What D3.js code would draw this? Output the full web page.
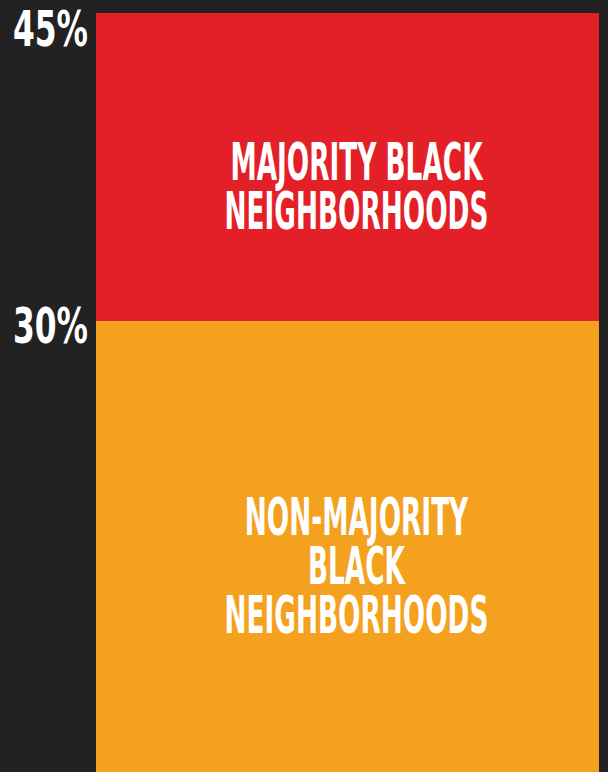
<!DOCTYPE html>
<html>
<head>
<meta charset="utf-8">
<script src="https://cdn.jsdelivr.net/npm/d3@7"></script>
<style>
  body { margin: 0; background: #222222; }
  svg { display: block; }
  text { font-family: "DejaVu Sans Condensed", "DejaVu Sans", sans-serif; font-weight: bold; font-stretch: condensed; fill: #ffffff; }
</style>
</head>
<body>
<div id="chart-area"></div>
<script>
// Data
let groups = ["Non-majority black neighborhoods", "Majority black neighborhoods"];
let shares = [30, 15];
let labelLines = [["NON-MAJORITY", "BLACK", "NEIGHBORHOODS"], ["MAJORITY BLACK", "NEIGHBORHOODS"]];
let tickValues = [30, 45];
let colors = ["#f3a11f", "#e31f27"];

let width = 608, height = 772;
let margin = {left: 96, right: 9, top: 13};

let svg = d3.select("#chart-area")
    .append("svg")
    .attr("width", width)
    .attr("height", height)
    .style("overflow", "hidden");

svg.append("rect")
    .attr("width", width)
    .attr("height", height)
    .attr("fill", "#222222");

// stack the two groups into one bar
let row = {};
groups.forEach(function (g, i) { row[g] = shares[i]; });
let series = d3.stack().keys(groups)([row]);

// Y scale: 45% at top, 30% at 321px (0% falls below the picture)
let y = d3.scaleLinear()
    .domain([30, 45])
    .range([321, margin.top]);

let x = d3.scaleBand()
    .domain(["all"])
    .range([margin.left, width - margin.right])
    .padding(0);

// Bars
svg.selectAll("rect.seg")
    .data(series)
    .enter()
    .append("rect")
    .attr("class", "seg")
    .attr("x", x("all"))
    .attr("width", x.bandwidth())
    .attr("y", function (d) { return y(d[0][1]); })
    .attr("height", function (d) { return y(d[0][0]) - y(d[0][1]); })
    .attr("fill", function (d, i) { return colors[i]; });

// squeeze factor so the condensed font looks like the narrow display face
function measure(str, size) {
    let t = svg.append("text").attr("font-size", size).text(str);
    let w = t.node().getComputedTextLength();
    t.remove();
    return w;
}
let labelSize = 51, lineGap = 49, capH = 37;
let kLabel = 264 / measure("NEIGHBORHOODS", labelSize);
let tickSize = 49;
let kTick = 75 / measure("45%", tickSize);

// Y axis (tick labels only)
let yAxisCall = d3.axisLeft(y)
    .tickValues(tickValues)
    .tickSize(0)
    .tickFormat(function (d) { return d + "%"; });
let yAxis = svg.append("g")
    .attr("class", "y axis")
    .attr("transform", "translate(88,0)")
    .call(yAxisCall);
yAxis.select(".domain").remove();
yAxis.selectAll(".tick").attr("transform", null);
yAxis.selectAll(".tick text")
    .attr("x", null)
    .attr("dy", null)
    .attr("fill", "#ffffff")
    .attr("font-size", tickSize)
    .attr("font-family", null)
    .attr("text-anchor", "end")
    .attr("transform", function (d) {
        let base = Math.max(y(d) + 22, 46);
        return "translate(0," + base + ") scale(" + kTick + ",1)";
    });

// Segment labels, one text per segment with a tspan per line
let cx = x("all") + x.bandwidth() / 2 + 9;
series.forEach(function (s, i) {
    let top = Math.max(y(s[0][1]), 0);
    let bottom = Math.min(y(s[0][0]), height);
    let mid = (top + bottom) / 2 + 19;
    let lines = labelLines[i];
    let first = mid - (lines.length - 1) / 2 * lineGap + capH / 2;
    let label = svg.append("text")
        .attr("font-size", labelSize)
        .attr("text-anchor", "middle")
        .attr("transform", "translate(" + cx + "," + first + ") scale(" + kLabel + ",1)");
    lines.forEach(function (line, j) {
        label.append("tspan")
            .attr("x", 0)
            .attr("y", j * lineGap)
            .text(line);
    });
});
</script>
</body>
</html>
